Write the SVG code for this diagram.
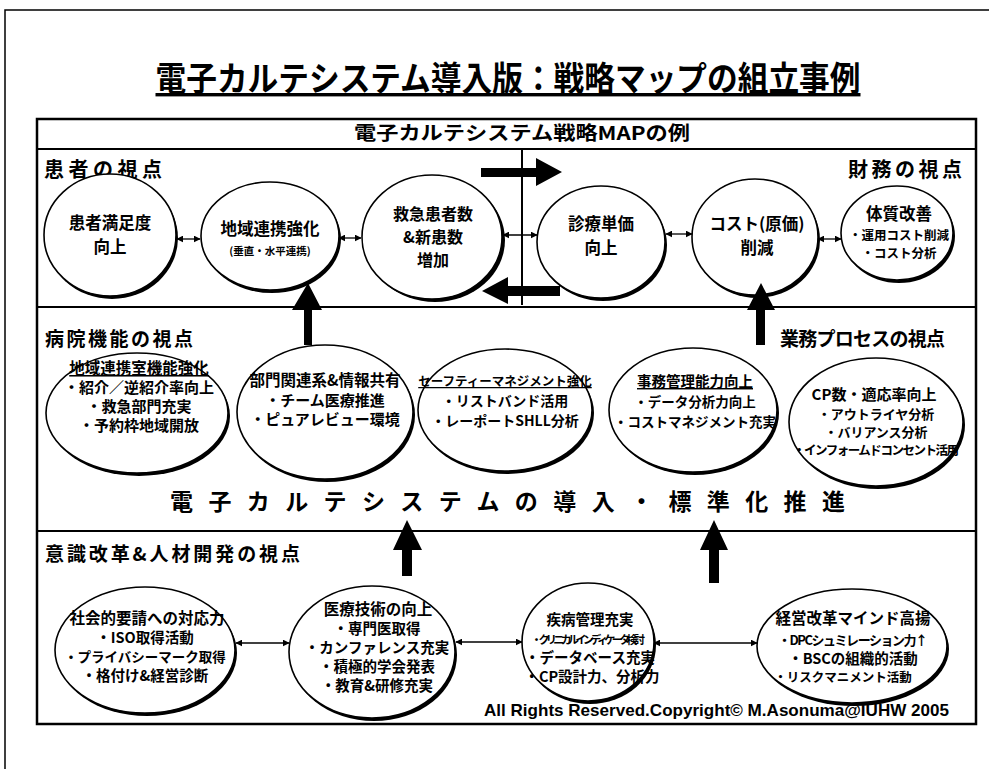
<svg xmlns="http://www.w3.org/2000/svg" width="989" height="769" viewBox="0 0 989 769">
<style>
.jp{font-family:"Noto Sans CJK JP","Noto Sans CJK SC",sans-serif;font-weight:bold;fill:#000}
.t{text-anchor:middle}
.ov{fill:#fff;stroke:#000;stroke-width:1.6}
.sh{fill:#000}
.sep{stroke:#000;stroke-width:2;fill:none}
.lnk{stroke:#000;stroke-width:1.3;fill:none;marker-start:url(#ah);marker-end:url(#ah)}
.big{fill:#000}
</style>
<defs>
<marker id="ah" viewBox="0 0 10 10" refX="9" refY="5" markerWidth="7" markerHeight="7" markerUnits="userSpaceOnUse" orient="auto-start-reverse">
<path d="M0,0 L10,5 L0,10 z" fill="#000"/>
</marker>
</defs>
<rect width="989" height="769" fill="#fff"/>
<!-- outer frame -->
<path d="M5,769 V10 H989" stroke="#000" stroke-width="1.5" fill="none"/>
<!-- title -->
<text class="jp t" x="508" y="91" font-size="34" textLength="705" lengthAdjust="spacingAndGlyphs" text-decoration="underline">電子カルテシステム導入版：戦略マップの組立事例</text>
<!-- inner box -->
<rect x="37" y="119" width="939" height="605" fill="none" stroke="#000" stroke-width="2.5"/>
<text class="jp t" x="522" y="140" font-size="19" textLength="336" lengthAdjust="spacingAndGlyphs">電子カルテシステム戦略MAPの例</text>
<g id="separators">
<line class="sep" x1="37" y1="149" x2="976" y2="149"/>
<line class="sep" x1="37" y1="307" x2="976" y2="307"/>
<line class="sep" x1="37" y1="531" x2="976" y2="531"/>
<line class="sep" x1="522" y1="149" x2="522" y2="305"/>
</g>
<!-- perspective labels -->
<g id="labels">
<text class="jp" x="44" y="177" font-size="20" textLength="118">患者の視点</text>
<text class="jp" x="848" y="177" font-size="20" textLength="114">財務の視点</text>
<text class="jp" x="45" y="346" font-size="19" textLength="148">病院機能の視点</text>
<text class="jp" x="780" y="346" font-size="19" textLength="165">業務プロセスの視点</text>
<text class="jp" x="45" y="561" font-size="19" textLength="255">意識改革&amp;人材開発の視点</text>
<text class="jp" x="170" y="510" font-size="23" textLength="675" lengthAdjust="spacing">電子カルテシステムの導入・標準化推進</text>
</g>
<!-- top row -->
<g id="n-patient">
<ellipse class="sh" cx="112" cy="238" rx="66" ry="61"/>
<ellipse class="ov" cx="110" cy="235" rx="66" ry="61"/>
<text class="jp t" x="110" y="229" font-size="16.5">患者満足度</text>
<text class="jp t" x="110" y="253" font-size="16.5">向上</text>
</g>
<g id="n-regional">
<ellipse class="sh" cx="272" cy="239" rx="69" ry="54"/>
<ellipse class="ov" cx="270" cy="236" rx="69" ry="54"/>
<text class="jp t" x="270" y="235" font-size="16.5">地域連携強化</text>
<text class="jp t" x="270" y="255" font-size="10.5">(垂直・水平連携)</text>
</g>
<g id="n-emergency">
<ellipse class="sh" cx="435" cy="240" rx="70" ry="62"/>
<ellipse class="ov" cx="432" cy="237" rx="70" ry="62"/>
<text class="jp t" x="433" y="220" font-size="16">救急患者数</text>
<text class="jp t" x="433" y="243" font-size="16">&amp;新患数</text>
<text class="jp t" x="433" y="266" font-size="16">増加</text>
</g>
<g id="n-unitprice">
<ellipse class="sh" cx="603" cy="245" rx="64" ry="56"/>
<ellipse class="ov" cx="601" cy="242" rx="64" ry="56"/>
<text class="jp t" x="601" y="230" font-size="16.5">診療単価</text>
<text class="jp t" x="601" y="254" font-size="16.5">向上</text>
</g>
<g id="n-cost">
<ellipse class="sh" cx="757" cy="240" rx="63" ry="58"/>
<ellipse class="ov" cx="755" cy="237" rx="63" ry="58"/>
<text class="jp t" x="757" y="230" font-size="16.5">コスト(原価)</text>
<text class="jp t" x="757" y="254" font-size="16.5">削減</text>
</g>
<g id="n-constitution">
<ellipse class="sh" cx="899" cy="236" rx="56" ry="47"/>
<ellipse class="ov" cx="897" cy="233" rx="56" ry="47"/>
<text class="jp t" x="899" y="220" font-size="16.5">体質改善</text>
<text class="jp t" x="899" y="240" font-size="12.5">・運用コスト削減</text>
<text class="jp t" x="899" y="258" font-size="12.5">・コスト分析</text>
</g>
<!-- middle row -->
<g id="n-regional-office">
<ellipse class="sh" cx="139" cy="416" rx="91" ry="60"/>
<ellipse class="ov" cx="137" cy="413" rx="91" ry="60"/>
<text class="jp t" x="139" y="374" font-size="15.5" text-decoration="underline">地域連携室機能強化</text>
<text class="jp t" x="139" y="393" font-size="15">・紹介／逆紹介率向上</text>
<text class="jp t" x="139" y="412" font-size="15">・救急部門充実</text>
<text class="jp t" x="139" y="431" font-size="15">・予約枠地域開放</text>
</g>
<g id="n-dept">
<ellipse class="sh" cx="327" cy="415" rx="88" ry="67"/>
<ellipse class="ov" cx="325" cy="412" rx="88" ry="67"/>
<text class="jp t" x="325" y="386" font-size="15.5">部門関連系&amp;情報共有</text>
<text class="jp t" x="325" y="406" font-size="15">・チーム医療推進</text>
<text class="jp t" x="325" y="425" font-size="15">・ピュアレビュー環境</text>
</g>
<g id="n-safety">
<ellipse class="sh" cx="507" cy="413" rx="87" ry="61"/>
<ellipse class="ov" cx="505" cy="410" rx="87" ry="61"/>
<text class="jp t" x="505" y="386" font-size="12.5" text-decoration="underline">セーフティーマネジメント強化</text>
<text class="jp t" x="505" y="406" font-size="14">・リストバンド活用</text>
<text class="jp t" x="505" y="426" font-size="14">・レーポートSHLL分析</text>
</g>
<g id="n-admin">
<ellipse class="sh" cx="695" cy="413" rx="84" ry="62"/>
<ellipse class="ov" cx="693" cy="410" rx="84" ry="62"/>
<text class="jp t" x="695" y="387" font-size="14.5" text-decoration="underline">事務管理能力向上</text>
<text class="jp t" x="695" y="407" font-size="13.5">・データ分析力向上</text>
<text class="jp t" x="695" y="427" font-size="13.5">・コストマネジメント充実</text>
</g>
<g id="n-cp">
<ellipse class="sh" cx="878" cy="425" rx="87" ry="64"/>
<ellipse class="ov" cx="876" cy="422" rx="87" ry="64"/>
<text class="jp t" x="874" y="400" font-size="15">CP数・適応率向上</text>
<text class="jp t" x="876" y="419" font-size="13">・アウトライヤ分析</text>
<text class="jp t" x="876" y="437" font-size="13">・バリアンス分析</text>
<text class="jp t" x="876" y="455" font-size="12.5" textLength="166">・インフォームドコンセント活用</text>
</g>
<!-- bottom row -->
<g id="n-social">
<ellipse class="sh" cx="147" cy="653" rx="90" ry="63"/>
<ellipse class="ov" cx="145" cy="650" rx="90" ry="63"/>
<text class="jp t" x="147" y="624" font-size="15.5">社会的要請への対応力</text>
<text class="jp t" x="145" y="643" font-size="14.5">・ISO取得活動</text>
<text class="jp t" x="145" y="662" font-size="13.5">・プライバシーマーク取得</text>
<text class="jp t" x="145" y="681" font-size="14.5">・格付け&amp;経営診断</text>
</g>
<g id="n-medtech">
<ellipse class="sh" cx="374" cy="655" rx="83" ry="66"/>
<ellipse class="ov" cx="372" cy="652" rx="83" ry="66"/>
<text class="jp t" x="378" y="615" font-size="15.5">医療技術の向上</text>
<text class="jp t" x="377" y="634" font-size="14.5">・専門医取得</text>
<text class="jp t" x="377" y="653" font-size="14.5">・カンファレンス充実</text>
<text class="jp t" x="377" y="672" font-size="14.5">・積極的学会発表</text>
<text class="jp t" x="377" y="691" font-size="14.5">・教育&amp;研修充実</text>
</g>
<g id="n-disease">
<ellipse class="sh" cx="590" cy="645" rx="66" ry="59"/>
<ellipse class="ov" cx="588" cy="642" rx="66" ry="59"/>
<text class="jp t" x="590" y="625" font-size="14.5">疾病管理充実</text>
<text class="jp t" x="588" y="644" font-size="11" textLength="114">・クリニカルインディケータ検討</text>
<text class="jp t" x="590" y="663" font-size="14.5">・データベース充実</text>
<text class="jp t" x="592" y="682" font-size="14.5">・CP設計力、分析力</text>
</g>
<g id="n-mind">
<ellipse class="sh" cx="854" cy="649" rx="95" ry="57"/>
<ellipse class="ov" cx="852" cy="646" rx="95" ry="57"/>
<text class="jp t" x="853" y="624" font-size="15.5">経営改革マインド高揚</text>
<text class="jp t" x="853" y="645" font-size="13" textLength="150">・DPCシュミレーション力↑</text>
<text class="jp t" x="853" y="664" font-size="14.5">・BSCの組織的活動</text>
<text class="jp t" x="843" y="682" font-size="12.5">・リスクマニメント活動</text>
</g>
<!-- connectors -->
<g id="connectors">
<line class="lnk" x1="177" y1="239" x2="200" y2="239"/>
<line class="lnk" x1="339" y1="238" x2="361" y2="238"/>
<line class="lnk" x1="503" y1="235" x2="537" y2="235"/>
<line class="lnk" x1="666" y1="234" x2="692" y2="234"/>
<line class="lnk" x1="818" y1="239" x2="841" y2="239"/>
<line class="lnk" x1="236" y1="643" x2="289" y2="643"/>
<line class="lnk" x1="456" y1="642" x2="522" y2="642"/>
<line class="lnk" x1="654" y1="643" x2="757" y2="643"/>
<path class="big" d="M481,168 H536 V158 L562,172 L536,186 V177 H481 Z"/>
<path class="big" d="M560,286 H508 V277 L482,291 L508,304 V296 H560 Z"/>
<path class="big" d="M304,345 V310 H292 L308,283 L322,310 H312 V345 Z"/>
<path class="big" d="M756,345 V310 H747 L761,283 L775,310 H765 V345 Z"/>
<path class="big" d="M402,576 V550 H393 L407,520 L422,550 H412 V576 Z"/>
<path class="big" d="M709,583 V550 H700 L714,520 L728,550 H719 V583 Z"/>
</g>
<text x="484" y="716" font-family="'Liberation Sans',Arial,sans-serif" font-weight="bold" font-size="17" textLength="465" lengthAdjust="spacingAndGlyphs">All Rights Reserved.Copyright© M.Asonuma@IUHW 2005</text>
</svg>
